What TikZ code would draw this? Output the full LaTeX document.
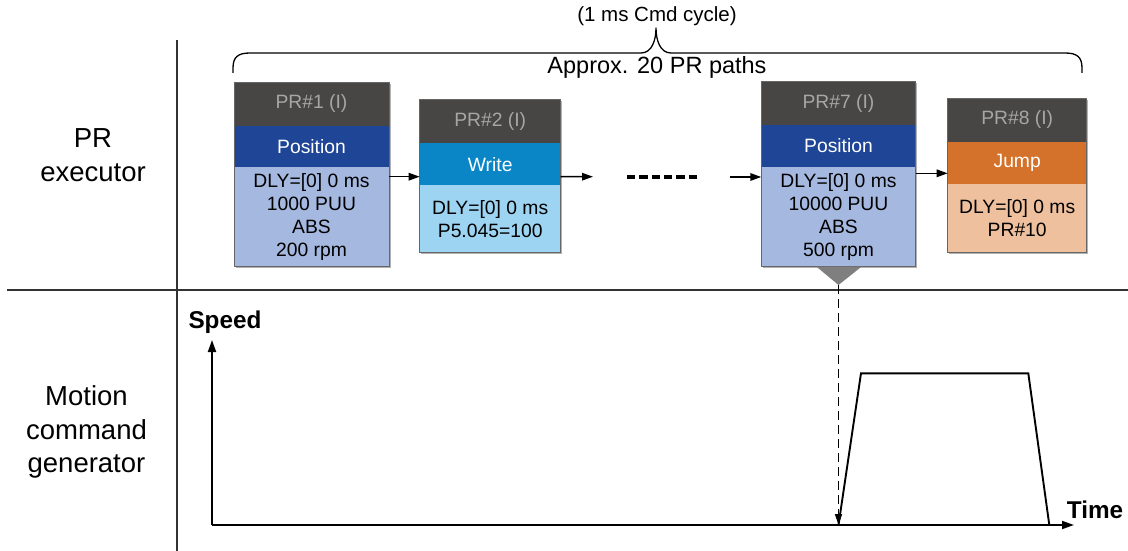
\documentclass[tikz,border=0pt]{standalone}
\usepackage{fontspec}
\setmainfont{Liberation Sans}
\usetikzlibrary{arrows.meta,calc}
\definecolor{hdr}{HTML}{484545}
\definecolor{hdrtxt}{HTML}{A6A6A6}
\definecolor{posband}{HTML}{1F4596}
\definecolor{posbody}{HTML}{A5B8DF}
\definecolor{wrband}{HTML}{0A86C6}
\definecolor{wrbody}{HTML}{9DD4F2}
\definecolor{jmpband}{HTML}{D4712A}
\definecolor{jmpbody}{HTML}{EEC09E}
\definecolor{sepline}{HTML}{333333}
\definecolor{tri}{HTML}{7F7F7F}
\begin{document}
\begin{tikzpicture}[x=1pt,y=-1pt,
  boxfont/.style={font=\fontsize{19.3pt}{23pt}\selectfont},
  part/.style={boxfont,inner sep=0pt,outer sep=0pt,align=center,anchor=north},
  hdrpart/.style={part,fill=hdr,text=hdrtxt},
  bandpart/.style={part,text=white},
  bodypart/.style={part,text=black},
  boxline/.style={draw=black!60,line width=1pt},
  boxshadow/.style={fill=black!30},
  arr/.style={line width=1.5pt,-{Triangle[length=11pt,width=7.5pt]}},
  axis/.style={line width=1.9pt,-{Triangle[length=12pt,width=8pt]}},
  sep/.style={line width=1.8pt,draw=sepline},
  side/.style={font=\fontsize{27.5pt}{33.5pt}\selectfont,align=center},
  axlabel/.style={font=\fontsize{24.3pt}{28pt}\selectfont\bfseries,inner sep=0pt}
]
\useasboundingbox (0,0) rectangle (1128,551);

% separators
\coordinate (vtop) at (177,40);
\coordinate (vbot) at (177,551);
\coordinate (hl) at (7,290);
\coordinate (hr) at (1128,290);
\draw[sep] (vtop) -- (vbot);
\draw[sep] (hl) -- (hr);

% side labels
\node[side] (lab1) at (93,155) {PR\\executor};
\node[side] (lab2) at (86.5,432) {Motion\\command\\generator};

% brace and its labels
\coordinate (brL) at (233,73);
\coordinate (brR) at (1082,73);
\coordinate (brT) at (656,28);
\draw[line width=1.3pt,line join=round]
  (brL) -- (233,68) .. controls (233,57) and (238,53) .. (250,53)
  -- (641,53) .. controls (652,53) and (656,40) .. (brT)
  .. controls (656,40) and (660,53) .. (671,53)
  -- (1065,53) .. controls (1077,53) and (1082,57) .. (1082,68) -- (brR);
\node[font=\fontsize{20.5pt}{24pt}\selectfont,inner sep=0pt] (cyc) at (657,16) {(1 ms Cmd cycle)};
\node[font=\fontsize{23.5pt}{28pt}\selectfont,inner sep=0pt] (appr) at (657,67) {Approx. 20 PR paths};

% ---------- Box 1
\fill[boxshadow] (235.5,83.8) rectangle (390.5,268.2);
\node[hdrpart,minimum width=155pt,minimum height=43.4pt] (b1h) at (311.5,82.3) {PR\#1 (I)};
\node[bandpart,fill=posband,minimum width=155pt,minimum height=41.3pt] (b1m) at (b1h.south) {Position};
\node[bodypart,fill=posbody,minimum width=155pt,minimum height=99.7pt] (b1b) at (b1m.south) {DLY=[0] 0 ms\\1000 PUU\\ABS\\200 rpm};
\draw[boxline] (b1h.north west) rectangle (b1b.south east);

% ---------- Box 2
\fill[boxshadow] (421.2,100.8) rectangle (562.2,254.2);
\node[hdrpart,minimum width=141pt,minimum height=44pt] (b2h) at (490.2,99.3) {PR\#2 (I)};
\node[bandpart,fill=wrband,minimum width=141pt,minimum height=41.7pt] (b2m) at (b2h.south) {Write};
\node[bodypart,fill=wrbody,minimum width=141pt,minimum height=67.7pt] (b2b) at (b2m.south) {DLY=[0] 0 ms\\P5.045=100};
\draw[boxline] (b2h.north west) rectangle (b2b.south east);

% ---------- Box 7
\fill[boxshadow] (762.8,83.5) rectangle (917.2,268.2);
\node[hdrpart,minimum width=154.4pt,minimum height=43pt] (b7h) at (838.5,82) {PR\#7 (I)};
\node[bandpart,fill=posband,minimum width=154.4pt,minimum height=42pt] (b7m) at (b7h.south) {Position};
\node[bodypart,fill=posbody,minimum width=154.4pt,minimum height=99.7pt] (b7b) at (b7m.south) {DLY=[0] 0 ms\\10000 PUU\\ABS\\500 rpm};
\draw[boxline] (b7h.north west) rectangle (b7b.south east);

% ---------- Box 8
\fill[boxshadow] (949.2,99.8) rectangle (1088.2,254.2);
\node[hdrpart,minimum width=139pt,minimum height=43.4pt] (b8h) at (1017.2,98.3) {PR\#8 (I)};
\node[bandpart,fill=jmpband,minimum width=139pt,minimum height=42.3pt] (b8m) at (b8h.south) {Jump};
\node[bodypart,fill=jmpbody,minimum width=139pt,minimum height=68.7pt] (b8b) at (b8m.south) {DLY=[0] 0 ms\\PR\#10};
\draw[boxline] (b8h.north west) rectangle (b8b.south east);

% ---------- connectors between boxes
\coordinate (a1s) at ([yshift=-9.7pt]b1b.north east);
\draw[arr] (a1s) -- (a1s -| b2m.west);
\coordinate (a2s) at ([yshift=-12.6pt]b2m.east);
\coordinate (a2e) at (593,176.7);
\draw[arr] (a2s) -- (a2e);
\coordinate (dotsL) at (627,177);
\coordinate (dotsR) at (697,177);
\draw[line width=4pt,dash pattern=on 8.2pt off 4.16pt] (dotsL) -- (dotsR);
\coordinate (a3s) at (730,177);
\draw[arr] (a3s) -- (a3s -| b7b.west);
\coordinate (a4s) at ([yshift=-6.3pt]b7b.north east);
\draw[arr] (a4s) -- (a4s -| b8m.west);

% ---------- triangle and dashed drop
\coordinate (tip) at ([yshift=-18.3pt]b7b.south);
\fill[tri] ([xshift=-22pt]b7b.south) -- ([xshift=23pt]b7b.south) -- (tip) -- cycle;
\coordinate (o) at (212,525);
\coordinate (drop) at (tip |- o);
\draw[line width=1.5pt,dash pattern=on 9pt off 5pt,-{Triangle[length=11pt,width=7pt]}] (tip) -- (drop);

% ---------- axes
\coordinate (ytop) at (212,340);
\coordinate (xend) at (1074,525);
\draw[axis] (o) -- (ytop);
\draw[axis] (o) -- (xend);
\node[axlabel] (spd) at (225,322) {Speed};
\node[axlabel] (tim) at (1095,510) {Time};

% ---------- speed profile
\coordinate (p1) at (861,373.3);
\coordinate (p2) at (1028.3,373.3);
\coordinate (p3) at (1049.3,525);
\draw[line width=1.9pt,line join=miter] (drop) -- (p1) -- (p2) -- (p3);
\end{tikzpicture}
\end{document}
